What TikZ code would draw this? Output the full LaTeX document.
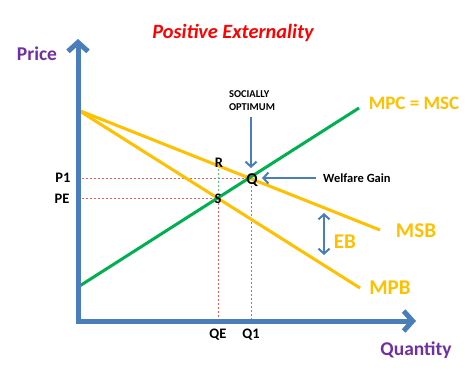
\documentclass[tikz,border=0pt]{standalone}
\usepackage{fontspec}
\setmainfont{Carlito}
\usetikzlibrary{arrows.meta}
\definecolor{axisblue}{RGB}{74,126,187}
\definecolor{gold}{RGB}{255,192,0}
\definecolor{mgreen}{RGB}{0,176,80}
\definecolor{purp}{RGB}{112,48,160}
\definecolor{dred}{RGB}{240,90,90}
\definecolor{lgreen}{RGB}{90,200,120}
\tikzset{
  axisline/.style={axisblue,line width=5pt,-{Straight Barb[length=9pt,width=20pt,line width=5pt]}},
  curve/.style={line width=3pt},
  guide/.style={dred,line width=0.8pt,dash pattern=on 2pt off 2pt},
  ptr/.style={axisblue,line width=2pt,-{Straight Barb[length=5pt,width=11pt,line width=2pt]}},
  dptr/.style={axisblue,line width=2pt,{Straight Barb[length=5pt,width=11pt,line width=2pt]}-{Straight Barb[length=5pt,width=11pt,line width=2pt]}},
  lbl/.style={font=\bfseries\fontsize{14.5}{14.5}\selectfont,text=black,inner sep=0pt},
  glbl/.style={font=\bfseries\fontsize{21}{21}\selectfont,text=gold,inner sep=0pt},
  plbl/.style={font=\bfseries\fontsize{19.5}{19.5}\selectfont,text=purp,inner sep=0pt},
}
\begin{document}
\begin{tikzpicture}[x=1pt,y=-1pt]
\useasboundingbox[fill=white] (0,0) rectangle (474,381);
% coordinates
\coordinate (ybot) at (78,323.5);
\coordinate (ytip) at (78,39);
\coordinate (xbot) at (75.5,321);
\coordinate (xtip) at (416,321);
\coordinate (mpcA) at (78,287);
\coordinate (mpcB) at (359,108);
\coordinate (msbA) at (78,110);
\coordinate (msbB) at (380,230);
\coordinate (mpbB) at (360,288);
\coordinate (Q) at (249.5,178);
\coordinate (S) at (218,198.5);
\coordinate (R) at (218,166);
\coordinate (p1L) at (82,178);
\coordinate (peL) at (82,198.5);
\coordinate (qeB) at (218,321);
\coordinate (q1B) at (251,321);
\coordinate (q1T) at (251,186);
% guides
\draw[guide] (p1L) -- (Q);
\draw[guide] (peL) -- (S);
\draw[guide] (S) -- (qeB);
\draw[guide] (q1T) -- (q1B);
\draw[lgreen,line width=0.8pt,dash pattern=on 2pt off 2pt] (218,169) -- (218,192);
% curves
\draw[curve,gold] (msbA) -- (msbB);
\draw[curve,gold] (msbA) -- (mpbB);
\draw[curve,mgreen] (mpcA) -- (mpcB);
% axes
\draw[axisline] (ybot) -- (ytip);
\draw[axisline] (xbot) -- (xtip);
% labels
\node[font=\bfseries\itshape\fontsize{20.3}{20.3}\selectfont,text=red,inner sep=0pt] (title) at (233,33) {Positive Externality};
\node[plbl] (price) at (37,54) {Price};
\node[plbl] (qty) at (416,350) {Quantity};
\node[glbl,font=\bfseries\fontsize{19}{19}\selectfont] (mpc) at (414,103) {MPC = MSC};
\node[glbl] (msb) at (416,231) {MSB};
\node[glbl] (mpb) at (390,288) {MPB};
\node[glbl] (eb) at (345,242) {EB};
\node[lbl] (p1) at (63,178) {P1};
\node[lbl] (pe) at (62,199) {PE};
\node[lbl] (qe) at (218,335) {QE};
\node[lbl] (q1) at (251,335) {Q1};
\node[lbl] (rl) at (219,163) {R};
\node[lbl] (sl) at (218,199) {S};
\node[lbl,font=\bfseries\fontsize{16.5}{16.5}\selectfont] (ql) at (252,180) {Q};
\node[font=\bfseries\fontsize{10.5}{13}\selectfont,align=left,inner sep=0pt] (soc) at (252,101) {SOCIALLY\\OPTIMUM};
\node[font=\bfseries\fontsize{12.5}{12.5}\selectfont,inner sep=0pt,anchor=west] (wg) at (323,178) {Welfare Gain};
% pointers
\coordinate (socA) at (251,117);
\coordinate (socB) at (251,168);
\coordinate (wgA) at (316,178);
\coordinate (wgB) at (262,178);
\coordinate (ebA) at (324,213);
\coordinate (ebB) at (324,255);
\draw[ptr] (socA) -- (socB);
\draw[ptr] (wgA) -- (wgB);
\draw[dptr] (ebA) -- (ebB);
\end{tikzpicture}
\end{document}
